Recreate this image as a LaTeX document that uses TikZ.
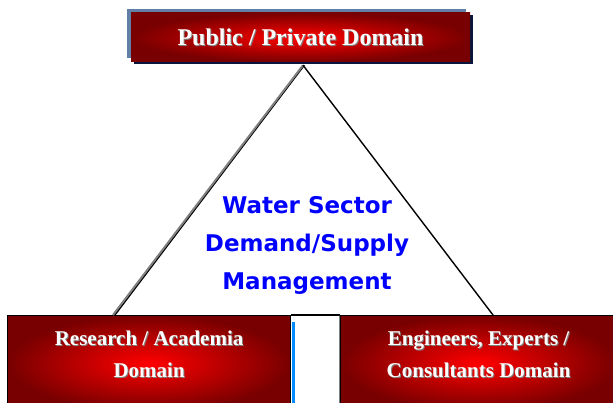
\documentclass[tikz,border=0pt]{standalone}
\usepackage{fontspec}
\setmainfont{Liberation Serif}
\newfontfamily\sectorfont{DejaVu Sans}
\usetikzlibrary{positioning,shadows}

\definecolor{darkred}{RGB}{120,0,0}
\definecolor{backblue}{RGB}{96,128,168}
\definecolor{navyshadow}{RGB}{10,20,60}
\definecolor{gapblue}{RGB}{0,140,255}

% white box text with a grey drop shadow
\newcommand{\shtxt}[1]{\makebox[0pt][l]{\hspace{1pt}\raisebox{-1pt}{\textcolor{gray}{#1}}}#1}

\tikzset{
  redbox/.style={shading=radial, inner color=red, outer color=darkred,
    text=white, font=\bfseries, align=center},
  sector/.style={text=blue, font=\sectorfont\bfseries\fontsize{23}{38}\selectfont, align=center}
}

\begin{document}
\begin{tikzpicture}[x=1pt,y=1pt]
  \useasboundingbox (0,0) rectangle (613,403);
  \clip (0,0) rectangle (613,403);

  \node[redbox, minimum width=339, minimum height=49,
        general shadow={fill=backblue, shadow xshift=-4pt, shadow yshift=4pt},
        general shadow={fill=navyshadow, shadow xshift=3pt, shadow yshift=-2pt},
        font=\bfseries\fontsize{24}{28}\selectfont]
    (pub) at (300.5,365.5) {\shtxt{Public / Private Domain}};

  \node[redbox, draw=black, line width=1.2pt, minimum width=283, minimum height=95,
        text depth=18pt, font=\bfseries\fontsize{21}{32}\selectfont, anchor=north west]
    (res) at (7,88) {\shtxt{Research / Academia}\\\shtxt{Domain}};
  \node[redbox, draw=black, line width=1.2pt, minimum width=276, minimum height=95,
        text depth=18pt, font=\bfseries\fontsize{21}{32}\selectfont, anchor=north west]
    (eng) at (340,88) {\shtxt{Engineers, Experts /}\\\shtxt{Consultants Domain}};

  % gap between the lower boxes
  \draw[line width=1.2pt] (res.north east) -- (eng.north west);
  \draw[gapblue, line width=3.5pt] ([xshift=2.2pt,yshift=-7pt]res.north east) -- ([xshift=2.2pt]res.south east);
  \draw[gray, line width=0.6pt] ([xshift=-1pt,yshift=-1pt]eng.north west) -- ([xshift=-1pt]eng.south west);

  \node[sector] (wsd) at (307,158) {Water Sector\\Demand/Supply\\Management};

  \coordinate (apex) at ([xshift=2.5pt,yshift=-3pt]pub.south);
  \coordinate (lf) at (113,88);
  \coordinate (rf) at (493,88);
  \draw[black, line width=1.6pt] ([xshift=1.2pt]apex) -- ([xshift=1.8pt]lf);
  \draw[gray, line width=2pt] (apex) -- (lf);
  \draw[black, line width=1.4pt] (apex) -- (rf);
\end{tikzpicture}
\end{document}
